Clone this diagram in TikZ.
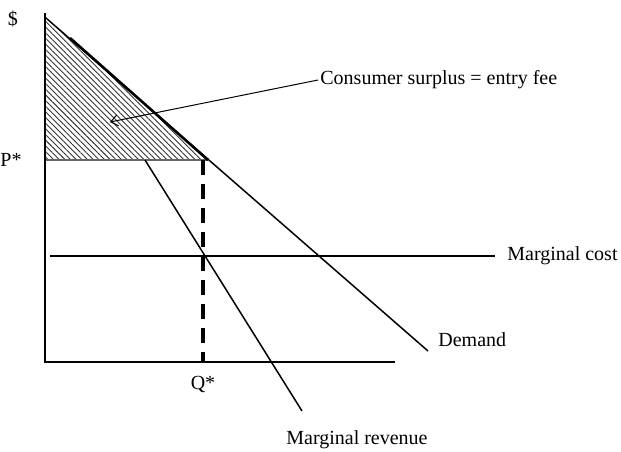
\documentclass[tikz,border=0pt]{standalone}
\usepackage{fontspec}
\setmainfont{Liberation Serif}
\usetikzlibrary{arrows.meta, positioning, patterns.meta}

\begin{document}
\begin{tikzpicture}[x=0.5pt, y=-0.5pt,
        axis/.style={line width=0.8pt},
        curve/.style={line width=0.75pt},
        lbl/.style={font=\fontsize{10}{12}\selectfont, inner sep=1pt},
        hatch/.style={pattern={Lines[angle=-45, distance=2pt, line width=0.45pt]}, pattern color=black!80},
        pointer/.style={line width=0.5pt, -{Straight Barb[length=3.5pt, width=5.5pt]}}
    ]
    \useasboundingbox (0,0) rectangle (621,451);
    % 坐标点
    \coordinate (axtop) at (45,13);
    \coordinate (origin) at (45,362);
    \coordinate (axend) at (395,362);
    \coordinate (dtop) at (46,18);
    \coordinate (dthick) at (70,38);
    \coordinate (dend) at (428,351);
    \coordinate (pstar) at (45,160);
    \coordinate (eq) at (208,160);
    \coordinate (qtop) at (203,160);
    \coordinate (qbot) at (203,362);
    \coordinate (mcstart) at (50,256);
    \coordinate (mcend) at (495,256);
    \coordinate (mrstart) at (145,160);
    \coordinate (mrend) at (302,411);
    \coordinate (tip) at (110,122);

    % 消费者剩余
    \fill[hatch] (dtop) -- (pstar) -- (eq) -- cycle;
    \draw[line width=0.9pt, black!60] (pstar) -- (eq);

    % 坐标轴与曲线
    \draw[axis] (axtop) -- (origin) -- (axend);
    \draw[curve] (dtop) -- (dend);
    \draw[line width=1.3pt] (dthick) -- (eq);
    \draw[curve] (mrstart) -- (mrend);
    \draw[curve] (mcstart) -- (mcend);
    \draw[line width=2pt, dash pattern=on 7.5pt off 4.5pt] (qtop) -- (qbot);

    % 标签
    \node[lbl] (dollar) at (13,19) {\$};
    \node[lbl] (plabel) at (11,160) {P*};
    \node[lbl, below=6pt of qbot] (qlabel) {Q*};
    \node[lbl, anchor=west] (mclabel) at (505,256) {Marginal cost};
    \node[lbl, anchor=west] (dlabel) at (436,340) {Demand};
    \node[lbl] (mrlabel) at (357,440) {Marginal revenue};
    \node[lbl, anchor=west] (cslabel) at (318,80) {Consumer surplus = entry fee};
    \draw[pointer] (cslabel.west) -- (tip);
\end{tikzpicture}
\end{document}
